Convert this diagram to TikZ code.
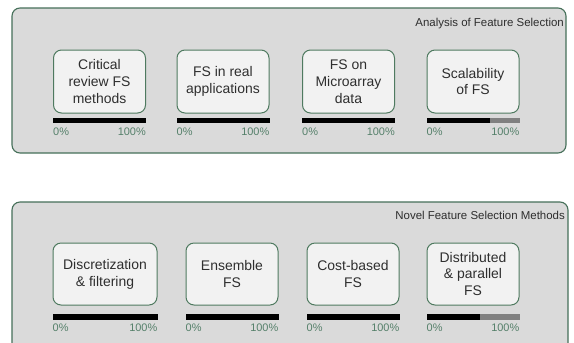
\documentclass[tikz,border=0pt]{standalone}
\usepackage{fontspec}
\setmainfont{Liberation Sans}
\begin{document}
\begin{tikzpicture}[x=1bp,y=-1bp,
  panel/.style={draw=panelline,line width=1.1bp,fill=panelfill,rounded corners=8bp},
  fsbox/.style={draw=boxline,line width=1bp,fill=boxfill,rounded corners=8bp,
     inner sep=0pt,align=center,text=boxtext,font=\fontsize{14}{17}\selectfont},
  ptitle/.style={anchor=east,inner sep=0pt,text=boxtext,font=\fontsize{11.5}{13}\selectfont},
  pct/.style={inner sep=0pt,text=pctcol,font=\fontsize{11}{13}\selectfont}]
\definecolor{panelline}{HTML}{46705A}
\definecolor{panelfill}{HTML}{DADADA}
\definecolor{boxline}{HTML}{4F7A60}
\definecolor{boxfill}{HTML}{F2F2F2}
\definecolor{boxtext}{HTML}{2E2E2E}
\definecolor{pctcol}{HTML}{55806A}
\definecolor{bargray}{HTML}{808080}
\useasboundingbox (0,0) rectangle (574,342);
\clip (0,0) rectangle (574,342);
\fill[white] (0,0) rectangle (574,342);
% panels
\draw[panel] (12,8) rectangle (566,153);
\draw[panel] (12,202) rectangle (568,360);
\node[ptitle] (t1) at (564,24) {Analysis of Feature Selection};
\node[ptitle] (t2) at (565,215) {Novel Feature Selection Methods};
% top boxes
\node[fsbox,minimum width=92bp,minimum height=63bp] (a1) at (99.5,81.5) {Critical\\review FS\\methods};
\node[fsbox,minimum width=92bp,minimum height=63bp] (a2) at (223,81.5) {FS in real\\applications};
\node[fsbox,minimum width=92bp,minimum height=63bp] (a3) at (348.5,81.5) {FS on\\Microarray\\data};
\node[fsbox,minimum width=92bp,minimum height=63bp] (a4) at (473,81.5) {Scalability\\of FS};
% bottom boxes
\node[fsbox,minimum width=104bp,minimum height=62bp] (b1) at (105,274) {Discretization\\\& filtering};
\node[fsbox,minimum width=92bp,minimum height=62bp] (b2) at (232,274) {Ensemble\\FS};
\node[fsbox,minimum width=92bp,minimum height=62bp] (b3) at (353,274) {Cost-based\\FS};
\node[fsbox,minimum width=92bp,minimum height=62bp] (b4) at (473,274) {Distributed\\\& parallel\\FS};
% bars top
\foreach \n in {a1,a2,a3,a4}{
  \path (\n.west) ++(0,36.5) coordinate (\n-bl) (\n.east) ++(0,41.5) coordinate (\n-br);
  \node[pct,anchor=west] (\n-l) at ([yshift=-50.5bp]\n.west) {0\%};
  \node[pct,anchor=east] (\n-r) at ([yshift=-50.5bp]\n.east) {100\%};
}
\fill[black] (a1-bl) rectangle (a1-br);
\fill[black] (a2-bl) rectangle (a2-br);
\fill[black] (a3-bl) rectangle (a3-br);
\fill[bargray] (a4-bl) rectangle (a4-br);
\fill[black] (a4-bl) rectangle (490,123);
% bars bottom
\foreach \n in {b1,b2,b3,b4}{
  \path (\n.west) ++(0,40) coordinate (\n-bl) (\n.east) ++(0,46) coordinate (\n-br);
  \node[pct,anchor=west] (\n-l) at ([yshift=-54bp]\n.west) {0\%};
  \node[pct,anchor=east] (\n-r) at ([yshift=-54bp]\n.east) {100\%};
}
\fill[black] (b1-bl) rectangle (b1-br);
\fill[black] (b2-bl) rectangle (b2-br);
\fill[black] (b3-bl) rectangle (b3-br);
\fill[bargray] (b4-bl) rectangle (b4-br);
\fill[black] (b4-bl) rectangle (480,320);
\end{tikzpicture}
\end{document}
